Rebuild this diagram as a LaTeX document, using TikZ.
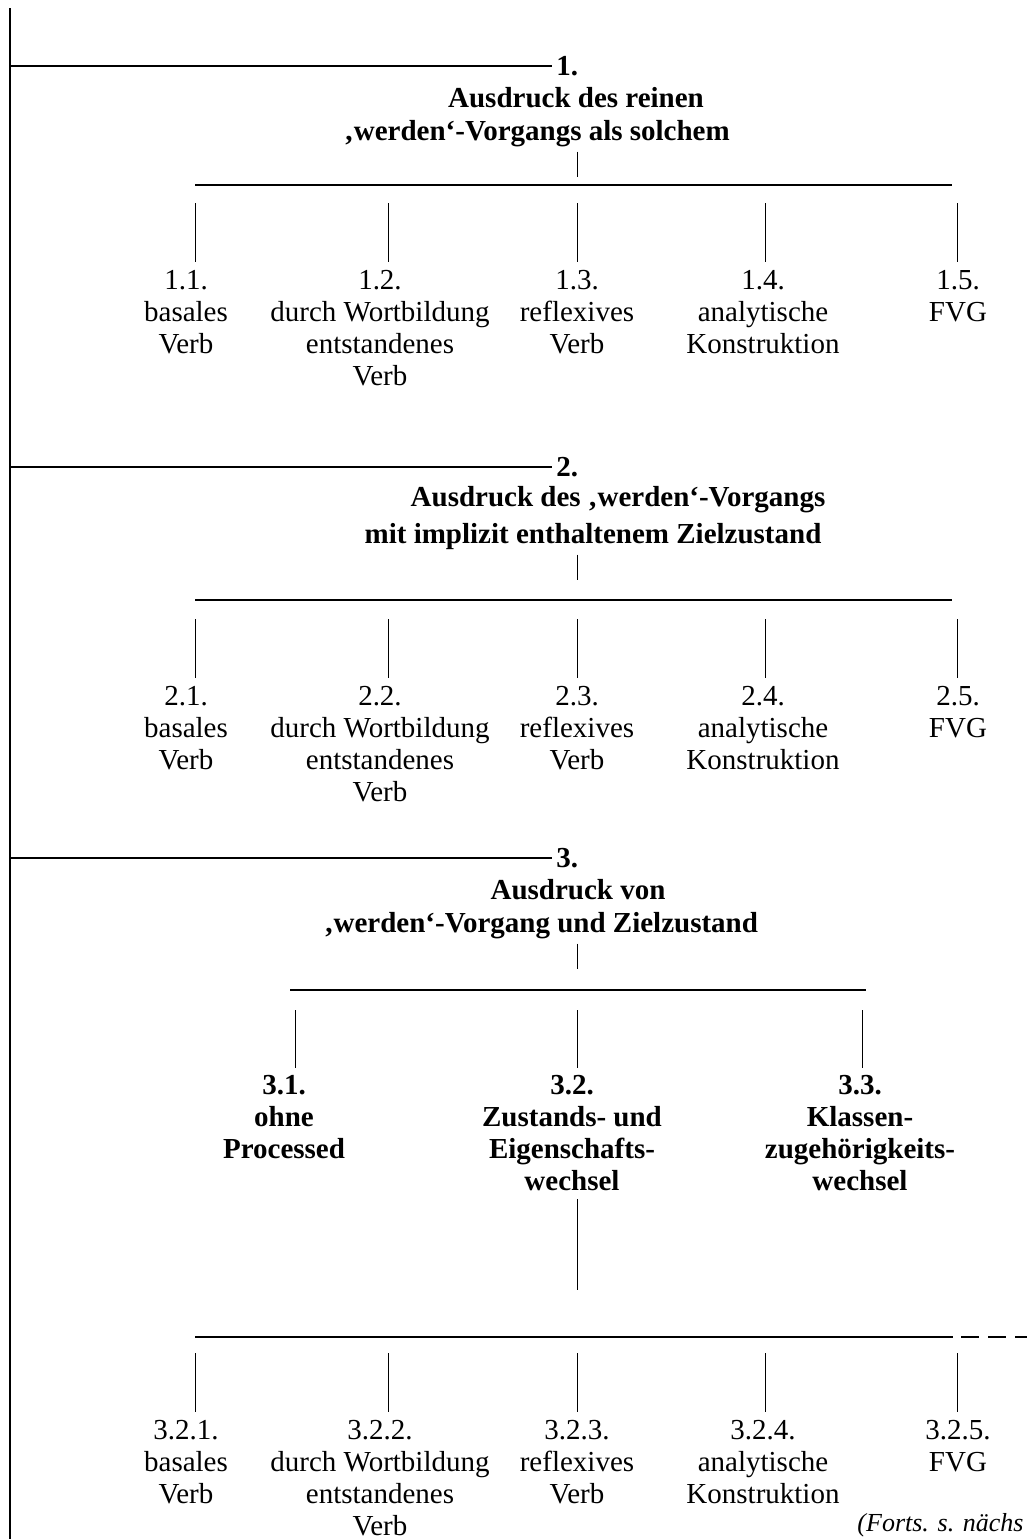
\documentclass[tikz,border=0pt]{standalone}
\usepackage{fontspec}
\setmainfont{Liberation Serif}
\usetikzlibrary{positioning}
\begin{document}
\begin{tikzpicture}[x=0.5pt,y=-0.5pt,line cap=butt,font=\fontsize{14.5}{16}\selectfont,
	head/.style={font=\fontsize{14.5}{16}\selectfont\bfseries,inner sep=0pt},
	leaf/.style={align=center,inner sep=0pt,anchor=north},
	bar/.style={line width=0.9pt},
	tick/.style={line width=0.5pt}]
	\useasboundingbox (0,0) rectangle (1027,1539);
	\coordinate (axis) at (577,0);
	\draw[bar] (10,8)--(10,1539);
	% main groups
	\foreach \s/\yy in {1/66,2/467,3/858}{
		\coordinate (s\s) at (10,\yy);
		\node[head,anchor=west] (n\s) at (556,\yy) {\s.};
		\draw[bar,shorten >=2pt] (s\s)--(n\s.west);
	}
	\node[head] (h1a) at (576,98) {Ausdruck des reinen};
	\node[head] (h1b) at (537,134) {‚werden‘-Vorgangs als solchem};
	\node[head] (h2a) at (618,500) {Ausdruck des ‚werden‘-Vorgangs};
	\node[head] (h2b) at (593,537) {mit implizit enthaltenem Zielzustand};
	\node[head] (h3a) at (578,890) {Ausdruck von};
	\node[head] (h3b) at (541,926) {‚werden‘-Vorgang und Zielzustand};
	\foreach \h in {h1b,h2b,h3b}
		\draw[tick] (\h.south -| axis) ++(0,4) -- ++(0,25);
	\draw[bar] (195,185)--(952,185);
	\draw[bar] (195,600)--(952,600);
	\draw[bar] (290,990)--(866,990);
	\draw[bar] (195,1337)--(953,1337);
	\draw[bar,dash pattern=on 9pt off 4.5pt] (961,1337)--(1027,1337);
	% leaves 1.x, 2.x, 3.2.x
	\foreach \r/\p/\top in {1/1./270,2/2./686,3/3.2./1420}{
		\foreach \i/\tx/\cx/\lab in {1/195/186/{basales\\Verb},2/388/380/{durch Wortbildung\\entstandenes\\Verb},3/577/577/{reflexives\\Verb},4/765/763/{analytische\\Konstruktion},5/957/958/{FVG}}{
			\node[leaf] (l\r\i) at (\cx,\top) {\p\i.\\\lab};
			\draw[tick] (\tx,\top-67)--(\tx,\top-8);
		}
	}
	% 3.1 - 3.3
	\foreach \i/\tx/\cx/\lab in {1/295/284/{ohne\\Processed},2/577/572/{Zustands- und\\Eigenschafts-\\wechsel},3/862/860/{Klassen-\\zugehörigkeits-\\wechsel}}{
		\node[leaf,font=\fontsize{14.5}{16}\selectfont\bfseries] (m\i) at (\cx,1075) {3.\i.\\\lab};
		\draw[tick] (\tx,1010)--(\tx,1068);
	}
	\draw[tick] (m2.south -| axis) ++(0,8) -- (577,1290);
	\node[font=\fontsize{13}{16}\selectfont\itshape,anchor=east,inner sep=0pt] (fo) at (1024,1525) {(Forts. s. nächs};
\end{tikzpicture}
\end{document}
